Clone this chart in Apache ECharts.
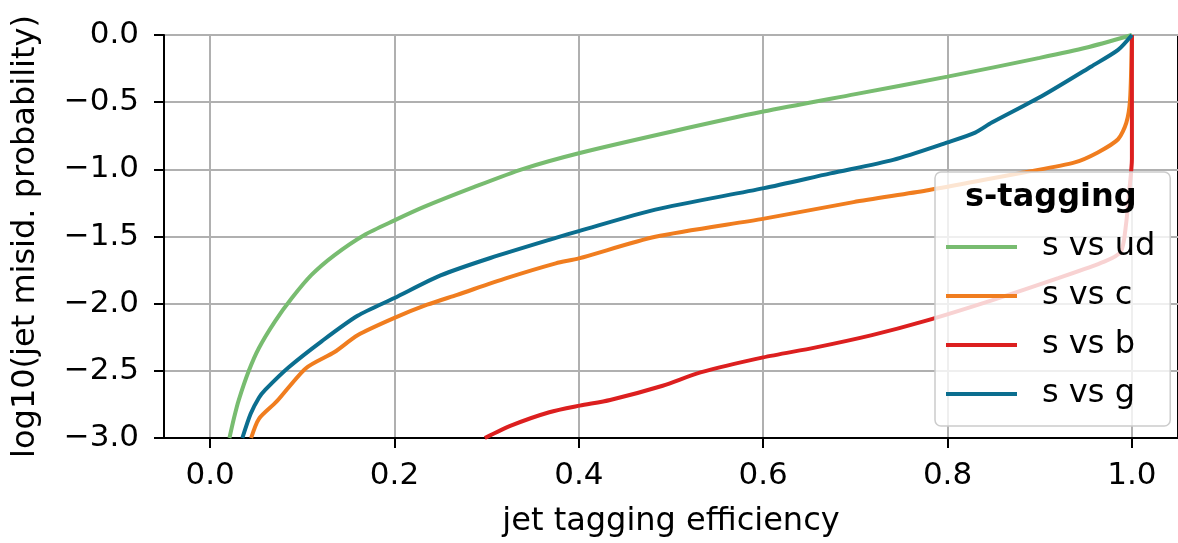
<!DOCTYPE html>
<html><head><meta charset="utf-8">
<script src="https://cdn.jsdelivr.net/npm/echarts@6/dist/echarts.min.js"></script>
<style>html,body{margin:0;padding:0;background:#fff}#c{width:1178px;height:543px}</style>
</head><body><div id="c"></div>
<script>
const FONT = '"DejaVu Sans", sans-serif';
const seriesNames = ['s vs ud', 's vs c', 's vs b', 's vs g'];
const seriesColors = ['#78bc70', '#f07d1f', '#dc1f1f', '#0b6e8f'];
const legendTitle = 's-tagging';
const xAxisName = 'jet tagging efficiency';
const yAxisName = 'log10(jet misid. probability)';
const xTicks = [0, 0.2, 0.4, 0.6, 0.8, 1.0];
const yTicks = [0, -0.5, -1.0, -1.5, -2.0, -2.5, -3.0];

const effUd = [0.021, 0.026, 0.031, 0.042, 0.053, 0.0706, 0.0885, 0.110, 0.135, 0.167, 0.200, 0.232, 0.286, 0.339, 0.400, 0.500, 0.600, 0.700, 0.800, 0.900, 0.950, 1.0];
const misUd = [-3.0, -2.85, -2.72, -2.50, -2.33, -2.13, -1.96, -1.786, -1.638, -1.49, -1.38, -1.28, -1.133, -0.998, -0.88, -0.72, -0.57, -0.44, -0.31, -0.17, -0.095, 0.0];

const effC = [0.0445, 0.053, 0.072, 0.104, 0.135, 0.160, 0.200, 0.2355, 0.268, 0.3215, 0.375, 0.400, 0.483, 0.601, 0.698, 0.777, 0.840, 0.884, 0.938, 0.963, 0.985, 0.994, 0.998, 1.0];
const misC = [-3.0, -2.857, -2.73, -2.48, -2.36, -2.235, -2.106, -2.008, -1.934, -1.810, -1.70, -1.663, -1.502, -1.367, -1.244, -1.158, -1.078, -1.022, -0.948, -0.874, -0.776, -0.652, -0.48, 0.0];

const effB = [0.298, 0.327, 0.368, 0.401, 0.434, 0.491, 0.532, 0.600, 0.656, 0.718, 0.775, 0.848, 0.920, 0.970, 0.988, 0.9935, 0.997, 1.0, 1.0];
const misB = [-3.0, -2.906, -2.808, -2.759, -2.717, -2.611, -2.512, -2.40, -2.327, -2.234, -2.13, -1.975, -1.81, -1.687, -1.613, -1.416, -1.17, -0.924, 0.0];

const effG = [0.035, 0.044, 0.053, 0.060, 0.085, 0.121, 0.160, 0.200, 0.250, 0.304, 0.375, 0.400, 0.483, 0.601, 0.673, 0.741, 0.800, 0.830, 0.848, 0.902, 0.956, 0.985, 1.0];
const misG = [-3.0, -2.82, -2.70, -2.64, -2.475, -2.28, -2.09, -1.958, -1.79, -1.66, -1.51, -1.46, -1.30, -1.14, -1.03, -0.93, -0.80, -0.727, -0.652, -0.456, -0.234, -0.111, 0.0];

const effs = [effUd, effC, effB, effG];
const miss = [misUd, misC, misB, misG];

function fmt(v) {
  const a = Math.abs(v).toFixed(1);
  return (v < -1e-9 ? '\u2212' : '') + a;
}

const chart = echarts.init(document.getElementById('c'), null, {renderer: 'canvas'});
const series = seriesNames.map((name, i) => ({
  name: name,
  type: 'line',
  data: effs[i].map((x, j) => [x, miss[i][j]]),
  showSymbol: false,
  symbol: 'none',
  smooth: 0.25,
  lineStyle: {color: seriesColors[i], width: 4},
  itemStyle: {color: seriesColors[i]},
  clip: true,
  z: 2,
  animation: false
}));

chart.setOption({
  animation: false,
  backgroundColor: '#fff',
  grid: {left: 164, top: 35, right: -9.5, bottom: 102, show: true, borderColor: '#000', borderWidth: 2, backgroundColor: 'transparent', containLabel: false},
  xAxis: {
    type: 'value', min: -0.05, max: 1.05,
    name: xAxisName, nameLocation: 'middle', nameGap: 68,
    nameTextStyle: {fontFamily: FONT, fontSize: 32, color: '#000'},
    axisLine: {show: true, onZero: false, lineStyle: {color: '#000', width: 2}},
    axisTick: {show: true, length: 10, lineStyle: {color: '#000', width: 2}, customValues: xTicks},
    axisLabel: {fontFamily: FONT, fontSize: 31, color: '#000', margin: 22, customValues: xTicks, formatter: fmt},
    splitLine: {show: true, lineStyle: {color: '#b0b0b0', width: 2}}
  },
  yAxis: {
    type: 'value', min: -3, max: 0, interval: 0.5,
    name: yAxisName, nameLocation: 'middle', nameGap: 122,
    nameTextStyle: {fontFamily: FONT, fontSize: 32, color: '#000'},
    axisLine: {show: true, onZero: false, lineStyle: {color: '#000', width: 2}},
    axisTick: {show: true, length: 10, lineStyle: {color: '#000', width: 2}},
    axisLabel: {fontFamily: FONT, fontSize: 31, color: '#000', margin: 25, formatter: fmt},
    splitLine: {show: true, lineStyle: {color: '#b0b0b0', width: 2}}
  },
  legend: {
    data: seriesNames,
    orient: 'vertical', left: 935, top: 172,
    icon: 'rect', itemWidth: 71, itemHeight: 4, itemGap: 17, itemTextGap: 25,
    padding: [59, 15, 16, 11],
    backgroundColor: 'rgba(255,255,255,0.8)', borderColor: '#cccccc', borderWidth: 1.5, borderRadius: 6,
    formatter: function (n) { return '{t|' + n + '}'; },
    textStyle: {fontFamily: FONT, fontSize: 32, color: '#000',
      rich: {t: {fontFamily: FONT, fontSize: 32, color: '#000', padding: [0, 0, 0, 20]}}},
    selectedMode: false, z: 10
  },
  graphic: [{
    type: 'text', left: 965, top: 182, z: 100,
    style: {text: legendTitle, fontFamily: FONT, fontSize: 32, fontWeight: 'bold', fill: '#000'}
  }],
  series: series
});
</script>
</body></html>
